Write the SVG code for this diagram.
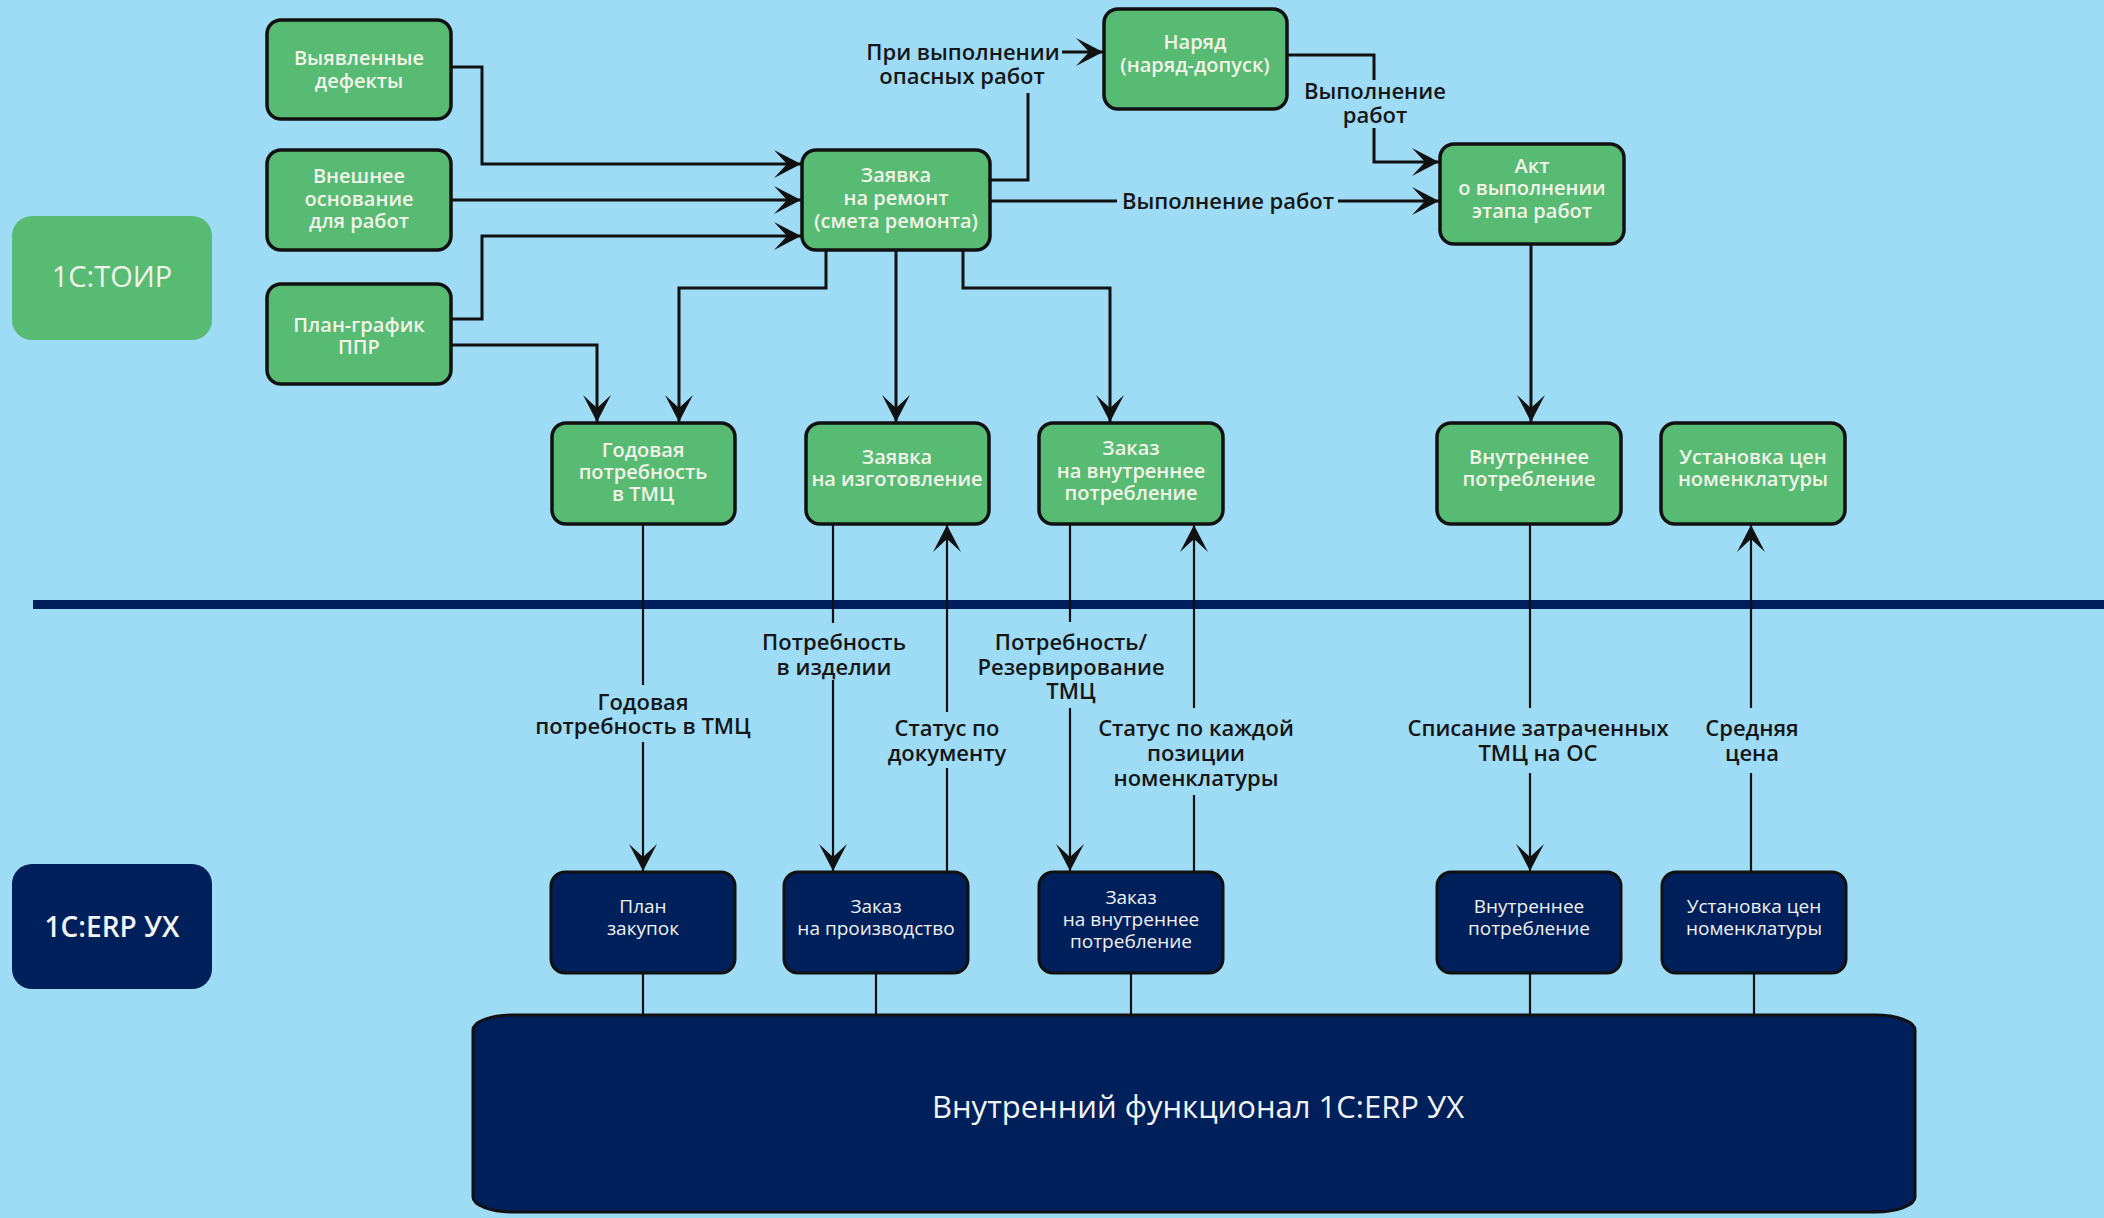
<svg xmlns="http://www.w3.org/2000/svg" width="2104" height="1218" viewBox="0 0 2104 1218">
<defs>
<style>
.g{fill:#57bb74;stroke:#111;stroke-width:3.5}
.n{fill:#00205b;stroke:#111;stroke-width:3}
.gt{font-family:"Open Sans","Noto Sans",sans-serif;font-size:20px;font-weight:600;fill:#f3f3e8;text-anchor:middle}
.nt{font-family:"Open Sans","Noto Sans",sans-serif;font-size:19px;font-weight:500;fill:#f0f0f0;text-anchor:middle}
.lb{font-family:"Open Sans","Noto Sans",sans-serif;font-size:22px;font-weight:600;fill:#161616;text-anchor:middle}
.c{fill:none;stroke:#111;stroke-width:3}
.c2{fill:none;stroke:#111;stroke-width:2.2}
</style>
<marker id="ah" viewBox="0 0 28 28" refX="28" refY="14" markerWidth="28" markerHeight="28" markerUnits="userSpaceOnUse" orient="auto">
<path d="M28,14 L1,0 L14,14 L1,28 Z" fill="#111"/>
</marker>
</defs>
<rect x="0" y="0" width="2104" height="1218" fill="#9edcf6"/>
<rect x="33" y="600" width="2071" height="9" fill="#001f5c"/>

<g id="connectors">
<path class="c" d="M451,67 H482 V164 H801" marker-end="url(#ah)"/>
<path class="c" d="M451,200 H801" marker-end="url(#ah)"/>
<path class="c" d="M451,319 H482 V236 H801" marker-end="url(#ah)"/>
<path class="c" d="M451,345 H597 V422" marker-end="url(#ah)"/>
<path class="c" d="M826,250 V288 H679 V422" marker-end="url(#ah)"/>
<path class="c" d="M896,250 V422" marker-end="url(#ah)"/>
<path class="c" d="M963,250 V288 H1110 V422" marker-end="url(#ah)"/>
<path class="c" d="M990,180 H1028 V93"/>
<path class="c" d="M1062,52 H1103" marker-end="url(#ah)"/>
<path class="c" d="M1287,55 H1374 V80"/>
<path class="c" d="M1374,128 V162 H1439" marker-end="url(#ah)"/>
<path class="c" d="M990,201 H1117"/>
<path class="c" d="M1338,201 H1439" marker-end="url(#ah)"/>
<path class="c" d="M1531,244 V422" marker-end="url(#ah)"/>

<path class="c2" d="M643,524 V685"/>
<path class="c2" d="M643,742 V871" marker-end="url(#ah)"/>
<path class="c2" d="M833,524 V623"/>
<path class="c2" d="M833,680 V871" marker-end="url(#ah)"/>
<path class="c2" d="M947,872 V768"/>
<path class="c2" d="M947,712 V525" marker-end="url(#ah)"/>
<path class="c2" d="M1070,524 V622"/>
<path class="c2" d="M1070,708 V871" marker-end="url(#ah)"/>
<path class="c2" d="M1194,872 V795"/>
<path class="c2" d="M1194,708 V525" marker-end="url(#ah)"/>
<path class="c2" d="M1530,524 V708"/>
<path class="c2" d="M1530,773 V871" marker-end="url(#ah)"/>
<path class="c2" d="M1751,872 V773"/>
<path class="c2" d="M1751,708 V525" marker-end="url(#ah)"/>

<path class="c2" d="M643,973 V1015"/>
<path class="c2" d="M876,973 V1015"/>
<path class="c2" d="M1131,973 V1015"/>
<path class="c2" d="M1530,973 V1015"/>
<path class="c2" d="M1754,973 V1015"/>

<text class="lb" x="963" y="60">При выполнении</text>
<text class="lb" x="962" y="84">опасных работ</text>
<text class="lb" x="1375" y="99">Выполнение</text>
<text class="lb" x="1375" y="123">работ</text>
<text class="lb" x="1228" y="209">Выполнение работ</text>
<text class="lb" x="643" y="710">Годовая</text>
<text class="lb" x="643" y="734">потребность в ТМЦ</text>
<text class="lb" x="834" y="650">Потребность</text>
<text class="lb" x="834" y="675">в изделии</text>
<text class="lb" x="947" y="736">Статус по</text>
<text class="lb" x="947" y="761">документу</text>
<text class="lb" x="1071" y="650">Потребность/</text>
<text class="lb" x="1071" y="675">Резервирование</text>
<text class="lb" x="1071" y="699">ТМЦ</text>
<text class="lb" x="1196" y="736">Статус по каждой</text>
<text class="lb" x="1196" y="761">позиции</text>
<text class="lb" x="1196" y="786">номенклатуры</text>
<text class="lb" x="1538" y="736">Списание затраченных</text>
<text class="lb" x="1538" y="761">ТМЦ на ОС</text>
<text class="lb" x="1752" y="736">Средняя</text>
<text class="lb" x="1752" y="761">цена</text>
</g>

<g id="toir">
<rect x="12" y="216" width="200" height="124" rx="20" fill="#57bb74"/>
<text x="112" y="287" font-family="'Open Sans','Noto Sans',sans-serif" font-size="29" font-weight="500" fill="#f3f3e8" text-anchor="middle">1C:ТОИР</text>
</g>
<g id="erp">
<rect x="12" y="864" width="200" height="125" rx="20" fill="#00205b"/>
<text x="112" y="937" font-family="'Open Sans','Noto Sans',sans-serif" font-size="28" font-weight="600" fill="#f3f3f3" text-anchor="middle">1C:ERP УХ</text>
</g>

<g id="n-defects"><rect class="g" x="267" y="20" width="184" height="99" rx="14"/>
<text class="gt" x="359" y="65">Выявленные</text><text class="gt" x="359" y="88">дефекты</text></g>
<g id="n-basis"><rect class="g" x="267" y="150" width="184" height="100" rx="14"/>
<text class="gt" x="359" y="183">Внешнее</text><text class="gt" x="359" y="206">основание</text><text class="gt" x="359" y="228">для работ</text></g>
<g id="n-ppr"><rect class="g" x="267" y="284" width="184" height="100" rx="14"/>
<text class="gt" x="359" y="332">План-график</text><text class="gt" x="359" y="354">ППР</text></g>
<g id="n-request"><rect class="g" x="802" y="150" width="188" height="100" rx="14"/>
<text class="gt" x="896" y="182">Заявка</text><text class="gt" x="896" y="205">на ремонт</text><text class="gt" x="896" y="228">(смета ремонта)</text></g>
<g id="n-naryad"><rect class="g" x="1104" y="9" width="183" height="100" rx="14"/>
<text class="gt" x="1195" y="49">Наряд</text><text class="gt" x="1195" y="72">(наряд-допуск)</text></g>
<g id="n-akt"><rect class="g" x="1440" y="144" width="184" height="100" rx="14"/>
<text class="gt" x="1532" y="173">Акт</text><text class="gt" x="1532" y="195">о выполнении</text><text class="gt" x="1532" y="218">этапа работ</text></g>

<g id="n-annual"><rect class="g" x="552" y="423" width="183" height="101" rx="14"/>
<text class="gt" x="643" y="457">Годовая</text><text class="gt" x="643" y="479">потребность</text><text class="gt" x="643" y="501">в ТМЦ</text></g>
<g id="n-mfgreq"><rect class="g" x="806" y="423" width="183" height="101" rx="14"/>
<text class="gt" x="897" y="464">Заявка</text><text class="gt" x="897" y="486">на изготовление</text></g>
<g id="n-intorder"><rect class="g" x="1039" y="423" width="184" height="101" rx="14"/>
<text class="gt" x="1131" y="455">Заказ</text><text class="gt" x="1131" y="478">на внутреннее</text><text class="gt" x="1131" y="500">потребление</text></g>
<g id="n-intcons"><rect class="g" x="1437" y="423" width="184" height="101" rx="14"/>
<text class="gt" x="1529" y="464">Внутреннее</text><text class="gt" x="1529" y="486">потребление</text></g>
<g id="n-price"><rect class="g" x="1661" y="423" width="184" height="101" rx="14"/>
<text class="gt" x="1753" y="464">Установка цен</text><text class="gt" x="1753" y="486">номенклатуры</text></g>

<g id="b-plan"><rect class="n" x="551" y="872" width="184" height="101" rx="14"/>
<text class="nt" x="643" y="913">План</text><text class="nt" x="643" y="935">закупок</text></g>
<g id="b-prod"><rect class="n" x="784" y="872" width="184" height="101" rx="14"/>
<text class="nt" x="876" y="913">Заказ</text><text class="nt" x="876" y="935">на производство</text></g>
<g id="b-intorder"><rect class="n" x="1039" y="872" width="184" height="101" rx="14"/>
<text class="nt" x="1131" y="904">Заказ</text><text class="nt" x="1131" y="926">на внутреннее</text><text class="nt" x="1131" y="948">потребление</text></g>
<g id="b-intcons"><rect class="n" x="1437" y="872" width="184" height="101" rx="14"/>
<text class="nt" x="1529" y="913">Внутреннее</text><text class="nt" x="1529" y="935">потребление</text></g>
<g id="b-price"><rect class="n" x="1662" y="872" width="184" height="101" rx="14"/>
<text class="nt" x="1754" y="913">Установка цен</text><text class="nt" x="1754" y="935">номенклатуры</text></g>

<g id="b-core"><rect x="473" y="1015" width="1442" height="197" rx="40" ry="15" fill="#00205b" stroke="#111" stroke-width="3"/>
<text x="1198" y="1118" font-family="'Open Sans','Noto Sans',sans-serif" font-size="31" font-weight="500" fill="#f3f3f3" text-anchor="middle">Внутренний функционал 1C:ERP УХ</text></g>
</svg>
